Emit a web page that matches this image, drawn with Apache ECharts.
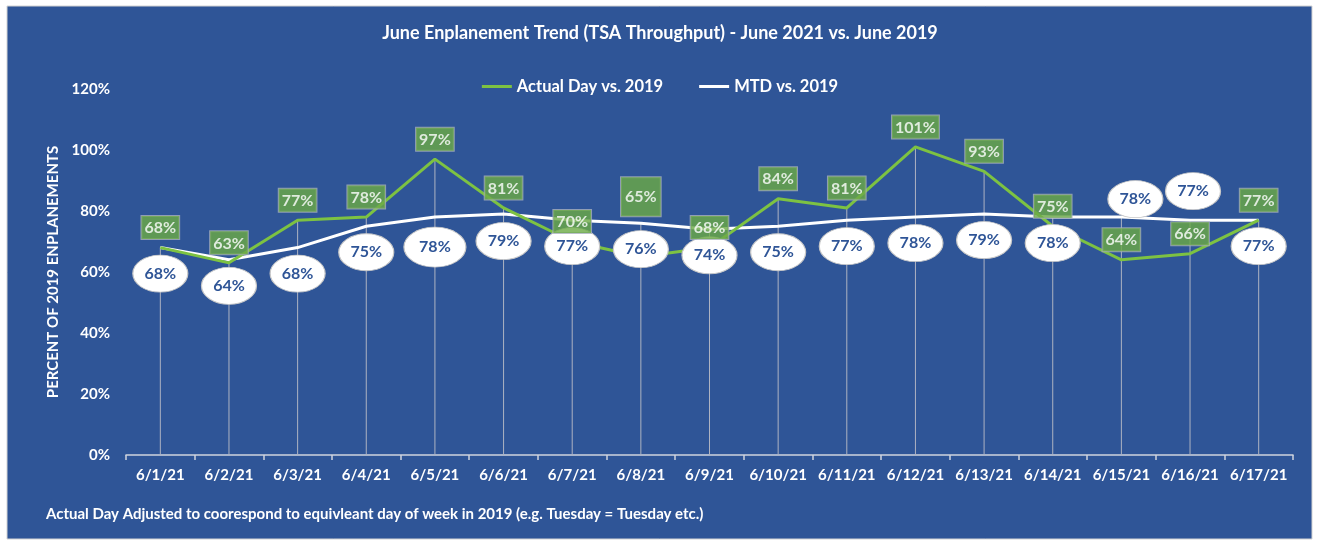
<!DOCTYPE html>
<html>
<head>
<meta charset="utf-8">
<title>June Enplanement Trend</title>
<script src="https://cdn.jsdelivr.net/npm/echarts@6/dist/echarts.min.js"></script>
<style>
html, body { margin: 0; padding: 0; background: #fff; }
#chart { width: 1320px; height: 542px; }
</style>
</head>
<body>
<div id="chart"></div>
<script>
const days = ['6/1/21', '6/2/21', '6/3/21', '6/4/21', '6/5/21', '6/6/21', '6/7/21', '6/8/21', '6/9/21',
  '6/10/21', '6/11/21', '6/12/21', '6/13/21', '6/14/21', '6/15/21', '6/16/21', '6/17/21']
const actualDay = [68, 63, 77, 78, 97, 81, 70, 65, 68, 84, 81, 101, 93, 75, 64, 66, 77]
const mtd = [68, 64, 68, 75, 78, 79, 77, 76, 74, 75, 77, 78, 79, 78, 78, 77, 77]
const yTicks = [0, 20, 40, 60, 80, 100, 120]

const FONT = 'Lato'
const BLUE = '#2F5597'
const GREEN_LINE = '#7DC242'
const GREEN_BOX = '#6CAA45'

// labels that were moved by hand in the original
const tallBox = {7: true}
const bubbleOffset = {4: [0, 30], 5: [0, 27], 14: [14, -18], 15: [3, -29]}
const bigBubble = {4: true}

let chart = echarts.init(document.getElementById('chart'))

let boxLabels = actualDay.map((v, i) => {
  if (!tallBox[i]) return v
  return {value: v, label: {padding: [12, 4, 11, 4], distance: 40}}
})
let bubbles = mtd.map((v, i) => ({
  value: v,
  symbolOffset: bubbleOffset[i] || [0, 26],
  symbolSize: bigBubble[i] ? [62, 40] : [55, 37]
}))
let drops = actualDay.map((v, i) => Math.max(v, mtd[i]))

chart.setOption({
  backgroundColor: '#fff',
  textStyle: {fontFamily: FONT},
  graphic: [
    {
      type: 'rect',
      z: -10,
      shape: {x: 7, y: 6, width: 1305, height: 533},
      style: {fill: BLUE, stroke: '#D3D3D3', lineWidth: 1}
    },
    {
      type: 'text',
      left: 46,
      top: 507,
      style: {
        text: 'Actual Day Adjusted to coorespond to equivleant day of week in 2019 (e.g. Tuesday = Tuesday etc.)',
        fill: '#fff',
        font: 'bold 15px ' + FONT
      }
    }
  ],
  title: {
    text: 'June Enplanement Trend (TSA Throughput) - June 2021 vs. June 2019',
    left: 'center',
    top: 19,
    textStyle: {color: '#fff', fontSize: 18, fontWeight: 'bold', fontFamily: FONT}
  },
  legend: {
    data: ['Actual Day vs. 2019', 'MTD vs. 2019'],
    top: 73,
    left: 'center',
    icon: 'rect',
    itemWidth: 30,
    itemHeight: 3,
    itemGap: 36,
    textStyle: {color: '#fff', fontSize: 16.5, fontWeight: 'bold', fontFamily: FONT}
  },
  grid: {
    left: 126,
    right: 27,
    top: 89,
    bottom: 87
  },
  xAxis: {
    type: 'category',
    data: days,
    boundaryGap: true,
    axisLine: {lineStyle: {color: '#D0D4DE', width: 1.5}},
    axisTick: {show: true, length: 5, lineStyle: {color: '#D0D4DE', width: 1.5}},
    axisLabel: {color: '#fff', fontSize: 15, fontWeight: 'bold', margin: 13, interval: 0}
  },
  yAxis: {
    type: 'value',
    min: yTicks[0],
    max: yTicks[yTicks.length - 1],
    interval: yTicks[1] - yTicks[0],
    name: 'PERCENT OF 2019 ENPLANEMENTS',
    nameLocation: 'middle',
    nameRotate: 90,
    nameGap: 59,
    nameTextStyle: {color: '#fff', fontSize: 15, fontWeight: 'bold'},
    axisLine: {show: false},
    axisTick: {show: false},
    splitLine: {show: false},
    axisLabel: {color: '#fff', fontSize: 15, fontWeight: 'bold', margin: 16, formatter: '{value}%'}
  },
  series: [
    {
      // drop lines
      name: 'drop',
      type: 'bar',
      barWidth: 1,
      silent: true,
      z: 1,
      itemStyle: {color: '#AEB3C2'},
      data: drops
    },
    {
      name: 'MTD vs. 2019',
      type: 'line',
      z: 2,
      showSymbol: false,
      itemStyle: {color: '#fff'},
      lineStyle: {color: '#fff', width: 3},
      data: mtd
    },
    {
      name: 'Actual Day vs. 2019',
      type: 'line',
      z: 3,
      showSymbol: false,
      itemStyle: {color: GREEN_LINE},
      lineStyle: {color: GREEN_LINE, width: 3},
      data: actualDay
    },
    {
      name: 'mtd bubbles',
      type: 'scatter',
      z: 4,
      silent: true,
      symbol: 'circle',
      itemStyle: {color: '#fff', borderColor: '#C8C8C8', borderWidth: 1, opacity: 1},
      label: {
        show: true,
        position: 'inside',
        formatter: p => p.value + '%',
        color: BLUE,
        fontSize: 16,
        fontWeight: 'bold',
        fontFamily: FONT
      },
      data: bubbles
    },
    {
      name: 'actual boxes',
      type: 'scatter',
      z: 5,
      silent: true,
      symbolSize: 1,
      itemStyle: {color: 'rgba(0,0,0,0)'},
      label: {
        show: true,
        position: 'top',
        distance: 8,
        formatter: p => p.value + '%',
        color: '#fff',
        fontSize: 16,
        fontWeight: 'bold',
        fontFamily: FONT,
        lineHeight: 16,
        backgroundColor: GREEN_BOX,
        borderColor: '#A9B0BD',
        borderWidth: 1,
        padding: [4, 3, 3, 3]
      },
      data: boxLabels
    }
  ]
})
</script>
</body>
</html>
